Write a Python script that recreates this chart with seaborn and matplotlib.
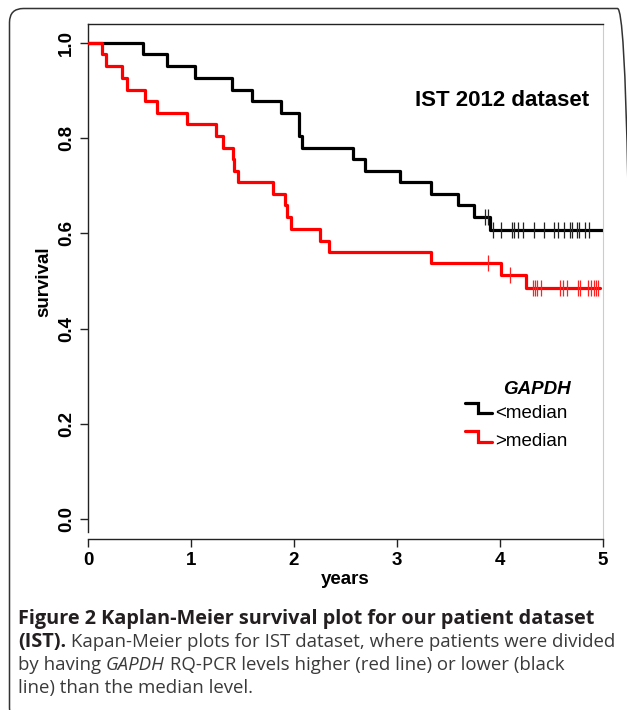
import matplotlib
matplotlib.use("Agg")
import matplotlib.pyplot as plt
import matplotlib.transforms as mtransforms
from matplotlib.patches import FancyBboxPatch
import seaborn as sns
import pandas as pd

# ---------------- data ----------------
low_times = [0.0, 0.53, 0.77, 1.04, 1.40, 1.59, 1.87, 2.05, 2.08, 2.57, 2.69,
             3.03, 3.33, 3.59, 3.75, 3.90, 5.00]
low_surv = [1.0, 0.976, 0.951, 0.927, 0.902, 0.878, 0.854, 0.805, 0.780, 0.756,
            0.732, 0.707, 0.683, 0.659, 0.634, 0.607, 0.607]
low_cens_t = [3.85, 3.88, 3.93, 4.01, 4.12, 4.14, 4.17, 4.22, 4.33, 4.43, 4.52,
              4.56, 4.62, 4.68, 4.70, 4.75, 4.77, 4.83, 4.86]
low_cens_s = [0.634, 0.634] + [0.607] * 17

high_times = [0.0, 0.133, 0.175, 0.33, 0.376, 0.554, 0.668, 0.966, 1.245, 1.31,
              1.41, 1.42, 1.46, 1.80, 1.91, 1.93, 1.97, 2.25, 2.34, 3.33, 4.01,
              4.25, 4.97]
high_surv = [1.0, 0.976, 0.951, 0.927, 0.902, 0.878, 0.854, 0.829, 0.805, 0.780,
             0.756, 0.732, 0.707, 0.683, 0.659, 0.634, 0.610, 0.585, 0.561, 0.537,
             0.513, 0.485, 0.485]
high_cens_t = [3.88, 4.10, 4.32, 4.34, 4.36, 4.40, 4.58, 4.61, 4.65, 4.76, 4.78,
               4.85, 4.88, 4.91, 4.93, 4.95]
high_cens_s = [0.537, 0.513] + [0.485] * 14

x_ticks = [0, 1, 2, 3, 4, 5]
x_tick_labels = ["0", "1", "2", "3", "4", "5"]
y_ticks = [0.0, 0.2, 0.4, 0.6, 0.8, 1.0]
y_tick_labels = ["0.0", "0.2", "0.4", "0.6", "0.8", "1.0"]

legend_title = "GAPDH"
legend_labels = ["<median", ">median"]
plot_title = "IST 2012 dataset"

# ---------------- style ----------------
sns.set_style("ticks")
plt.rcParams["font.family"] = ["Liberation Sans", "DejaVu Sans"]
plt.rcParams["xtick.labelcolor"] = "black"
plt.rcParams["ytick.labelcolor"] = "black"
plt.rcParams["text.color"] = "black"
plt.rcParams["axes.labelcolor"] = "black"

W, H = 627, 710
fig = plt.figure(figsize=(W / 100, H / 100), dpi=100)


def fx(px):
    return px / W


def fy(py):
    return 1 - py / H


ax = fig.add_axes([fx(88), fy(539), (603 - 88) / W, (539 - 24) / H])

low_df = pd.DataFrame({"years": low_times, "survival": low_surv})
high_df = pd.DataFrame({"years": high_times, "survival": high_surv})
low_c = pd.DataFrame({"years": low_cens_t, "survival": low_cens_s})
high_c = pd.DataFrame({"years": high_cens_t, "survival": high_cens_s})

LW = 2.3
sns.lineplot(data=low_df, x="years", y="survival", estimator=None, sort=False,
             drawstyle="steps-post", color="black", lw=LW, ax=ax)
sns.scatterplot(data=low_c, x="years", y="survival", marker="|", s=130,
                linewidth=0.9, color="#222222", edgecolor="#222222", ax=ax,
                zorder=3)
sns.lineplot(data=high_df, x="years", y="survival", estimator=None, sort=False,
             drawstyle="steps-post", color="#ff0000", lw=LW, ax=ax, zorder=4)
sns.scatterplot(data=high_c, x="years", y="survival", marker="|", s=130,
                linewidth=0.9, color="#ff2020", edgecolor="#ff2020", ax=ax,
                zorder=5)

ax.set_xlim(0, 5)
ax.set_ylim(-0.042, 1.04)
ax.set_xticks(x_ticks)
ax.set_xticklabels(x_tick_labels, fontweight="bold", fontsize=13.5)
ax.set_yticks(y_ticks)
ax.set_yticklabels(y_tick_labels, fontweight="bold", fontsize=13.5,
                   rotation=90, va="center")
ax.tick_params(axis="both", direction="out", length=6, width=1.0,
               color="#222222", labelcolor="black")
ax.tick_params(axis="x", pad=3.5)
ax.tick_params(axis="y", pad=3.5)

for side in ["left", "bottom", "top"]:
    ax.spines[side].set_color("#222222")
    ax.spines[side].set_linewidth(1.0)
ax.spines["right"].set_color("#cccccc")
ax.spines["right"].set_linewidth(0.8)
ax.spines["left"].set_bounds(-0.027, 1.04)

ax.set_xlabel("years", fontweight="bold", fontsize=13.5, labelpad=1,
              color="black")
ax.set_ylabel("survival", fontweight="bold", fontsize=13.5, labelpad=4,
              color="black")

ax.text((502 - 88) / 515, (539 - 101) / 515, plot_title, transform=ax.transAxes,
        ha="center", va="center", fontsize=16, fontweight="bold")

# legend
ax.text((537 - 88) / 515, (539 - 390) / 515, legend_title, transform=ax.transAxes,
        ha="center", va="center", fontsize=13.5, fontweight="bold",
        fontstyle="italic")
ident = mtransforms.IdentityTransform()
for (ytop, ybot), col, lab in zip([(403, 413), (431, 442)], ["black", "#ff0000"],
                                  legend_labels):
    fig.add_artist(plt.Line2D([465, 478, 478, 492],
                              [H - ytop, H - ytop, H - ybot, H - ybot],
                              transform=ident, color=col, lw=LW,
                              solid_joinstyle="miter"))
    ax.text((495 - 88) / 515, (539 - ybot) / 515, lab, transform=ax.transAxes,
            ha="left", va="center", fontsize=13.5)

# outer frame
frame = FancyBboxPatch((9.5, -12), 622, H - 8.5 + 12,
                       boxstyle="round,pad=0,rounding_size=14",
                       transform=ident, fill=False, ec="#333333", lw=1.1)
fig.add_artist(frame)

# caption
renderer = fig.canvas.get_renderer()
CAP = ["Open Sans", "DejaVu Sans"]
cap_color = "#231f20"
BOLD_SIZE = 14.3
REG_SIZE = 13.4


def runs(x0, ybase, parts):
    x = x0
    for s, kw in parts:
        kw = dict(kw)
        size = BOLD_SIZE if kw.get("fontweight") == "bold" else REG_SIZE
        col = "#231f20" if kw.get("fontweight") == "bold" else "#3a3a3a"
        t = fig.text(fx(x), fy(ybase), s, va="baseline", ha="left",
                     family=CAP, fontsize=size, color=col, **kw)
        x += t.get_window_extent(renderer=renderer).width


B = {"fontweight": "bold"}
R = {}
I = {"fontstyle": "italic"}
runs(18, 624, [("Figure 2 Kaplan-Meier survival plot for our patient dataset", B)])
runs(18, 647, [("(IST).", B), (" Kapan-Meier plots for IST dataset, where patients were divided", R)])
runs(18, 670, [("by having ", R), ("GAPDH", I), (" RQ-PCR levels higher (red line) or lower (black", R)])
runs(18, 693, [("line) than the median level.", R)])

fig.savefig("out.png", dpi=100)
